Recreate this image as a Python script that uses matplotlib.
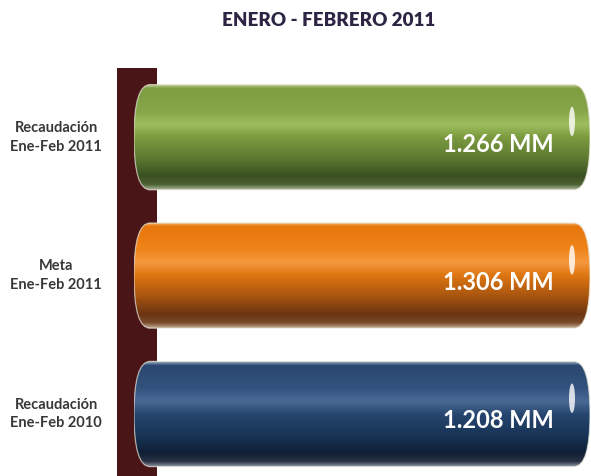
import numpy as np
import matplotlib
matplotlib.use('Agg')
import matplotlib.pyplot as plt
import matplotlib.transforms as mtransforms
from matplotlib.patches import FancyBboxPatch, Rectangle, Ellipse
from matplotlib.colors import LinearSegmentedColormap

plt.rcParams['font.family'] = ['Lato', 'DejaVu Sans']

# --- Datos ---
categorias = ['Recaudación\nEne-Feb 2011', 'Meta\nEne-Feb 2011', 'Recaudación\nEne-Feb 2010']
valores = [1.266, 1.306, 1.208]
etiquetas = ['1.266 MM', '1.306 MM', '1.208 MM']
titulo = 'ENERO - FEBRERO 2011'

# degradados verticales (de arriba hacia abajo)
degradados = [
    [(0, '#c5d3a0'), (0.04, '#7f9d42'), (0.25, '#86a548'), (0.38, '#9dbe5f'),
     (0.5, '#7c9b40'), (0.7, '#5d7a30'), (0.87, '#3a5022'), (0.95, '#4d6232'),
     (1, '#b0b8a0')],
    [(0, '#f5c080'), (0.04, '#e8760c'), (0.25, '#ef8418'), (0.38, '#f5993f'),
     (0.5, '#de7612'), (0.7, '#a85510'), (0.87, '#6a3412'), (0.95, '#7a4a2a'),
     (1, '#c0a890')],
    [(0, '#a8b8cc'), (0.04, '#2a4870'), (0.25, '#32527d'), (0.38, '#4a6a95'),
     (0.5, '#27466f'), (0.7, '#183457'), (0.87, '#0f1f35'), (0.95, '#2a3446'),
     (1, '#909aa8')],
]

W, H = 591, 476
fig = plt.figure(figsize=(W / 100, H / 100), dpi=100)
fig.patch.set_facecolor('white')

# pared oscura a la izquierda
fig.add_artist(Rectangle((117 / W, 0), 40 / W, 408 / H, transform=fig.transFigure,
                         facecolor='#4a1517', edgecolor='none', zorder=0))

ax = fig.add_axes([134 / W, 0, (590 - 134) / W, 408 / H])
ax.patch.set_visible(False)
ax.set_zorder(1)
for s in ax.spines.values():
    s.set_visible(False)
ax.set_xticks([])
ax.set_yticks([])

xmax = 1.2
ylim = (2.448, -0.5)
alto = 0.76
y = np.arange(len(valores))

bars = ax.barh(y, valores, height=alto, color='none', edgecolor='none')
ax.set_xlim(0, xmax)
ax.set_ylim(*ylim)

# escalas en pixeles
px_x = (590 - 134) / xmax
rx = 16 / px_x

grad = np.linspace(0, 1, 256).reshape(-1, 1)
for i, b in enumerate(bars):
    x0 = b.get_x()
    w = min(b.get_width(), xmax) - x0
    yc = b.get_y() + b.get_height() / 2
    h = b.get_height()
    cmap = LinearSegmentedColormap.from_list('g%d' % i, degradados[i])
    forma = FancyBboxPatch((x0, yc - h / 2), w, h,
                           boxstyle='round,pad=0,rounding_size=%f' % rx,
                           mutation_aspect=(h / 2) / rx,
                           facecolor='none', edgecolor='none')
    ax.add_patch(forma)
    im = ax.imshow(grad, cmap=cmap, aspect='auto', origin='upper',
                   extent=(x0, x0 + w, yc + h / 2, yc - h / 2), zorder=2)
    im.set_clip_path(forma)
    borde = FancyBboxPatch((x0, yc - h / 2), w, h,
                           boxstyle='round,pad=0,rounding_size=%f' % rx,
                           mutation_aspect=(h / 2) / rx,
                           facecolor='none', edgecolor='#e6e6d8', lw=0.9,
                           alpha=0.7, zorder=3)
    ax.add_patch(borde)
    # brillo del extremo derecho
    ax.add_patch(Ellipse((x0 + w - 18 / px_x, yc - h * 0.15), 6 / px_x, h * 0.28,
                         facecolor='white', edgecolor='none', alpha=0.8, zorder=4))
    ax.annotate(etiquetas[i], xy=(x0 + w, yc), xytext=(-36, -7),
                textcoords='offset pixels', ha='right', va='center',
                color='white', fontsize=17, fontweight='bold', zorder=5)

ax.set_xlim(0, xmax)
ax.set_ylim(*ylim)

trans = mtransforms.blended_transform_factory(fig.transFigure, ax.transData)
for i, c in enumerate(categorias):
    ax.text(56 / W, y[i], c, transform=trans, ha='center', va='center',
            fontsize=10.5, fontweight='bold', color='#383838', linespacing=1.45)

fig.text(329 / W, 1 - 21 / H, titulo, ha='center', va='center',
         fontsize=13.5, fontweight='heavy', color='#2e2545')

fig.savefig('out.png', dpi=100)
